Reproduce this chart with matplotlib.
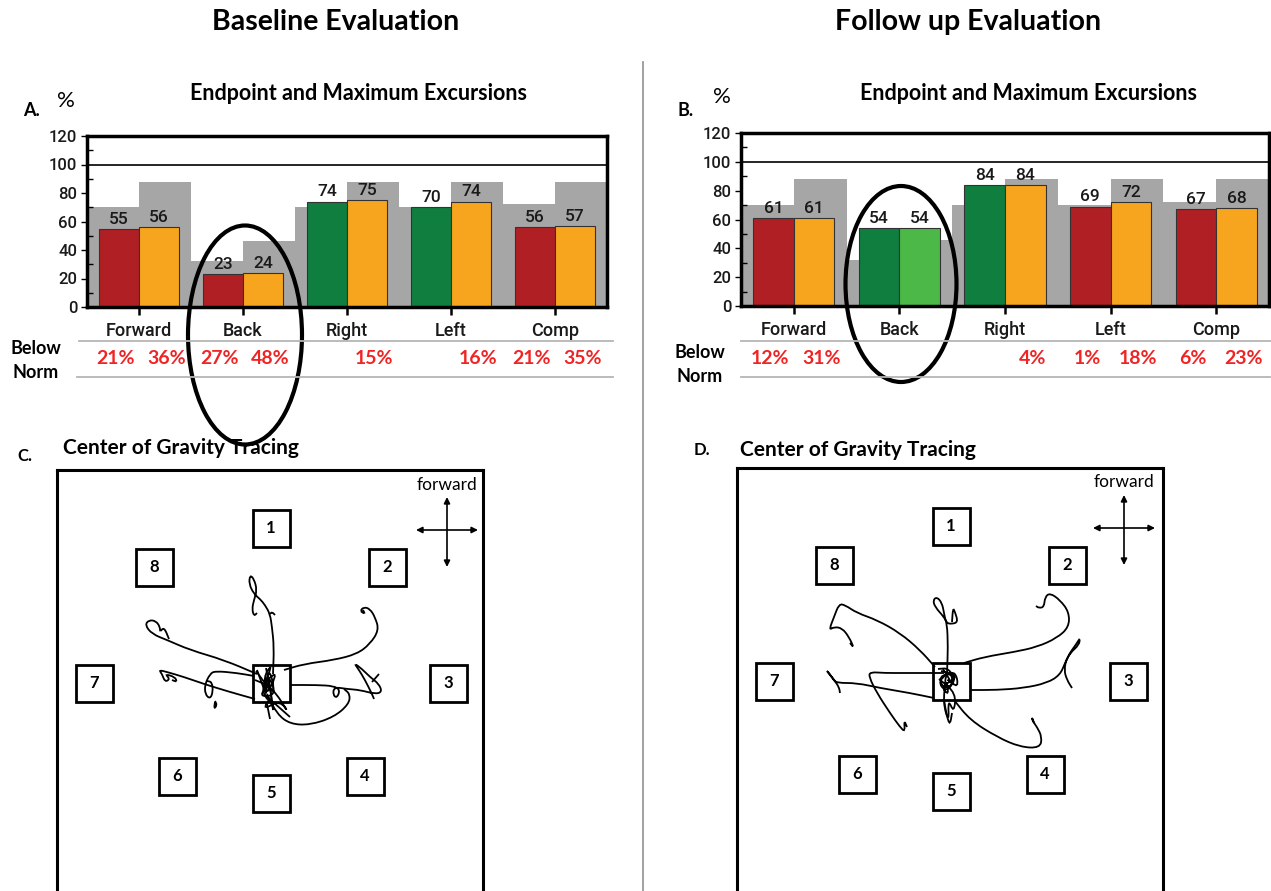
import matplotlib
matplotlib.use("Agg")
import matplotlib.pyplot as plt
import numpy as np
from matplotlib.patches import Rectangle, Ellipse, PathPatch
from matplotlib.path import Path
from matplotlib.transforms import blended_transform_factory
from matplotlib.ticker import MultipleLocator

# ---------------- data ----------------
CATEGORIES = ["Forward", "Back", "Right", "Left", "Comp"]
Y_TICKS = [0, 20, 40, 60, 80, 100, 120]

NORM_LEFT = [70, 32, 70, 70, 72]
NORM_RIGHT = [88, 46, 88, 88, 88]

A_ENDPOINT = [55, 23, 74, 70, 56]
A_MAXEXC = [56, 24, 75, 74, 57]
B_ENDPOINT = [61, 54, 84, 69, 67]
B_MAXEXC = [61, 54, 84, 72, 68]

A_BELOW_END = [21, 27, None, None, 21]
A_BELOW_MAX = [36, 48, 15, 16, 35]
B_BELOW_END = [12, None, None, 1, 6]
B_BELOW_MAX = [31, None, 4, 18, 23]

RED, ORANGE, DGREEN, LGREEN, GRAY = "#b01f24", "#f7a51e", "#0f7e3f", "#4cb848", "#a6a6a6"
A_END_COLORS = [RED, RED, DGREEN, DGREEN, RED]
A_MAX_COLORS = [ORANGE, ORANGE, ORANGE, ORANGE, ORANGE]
B_END_COLORS = [RED, DGREEN, DGREEN, RED, RED]
B_MAX_COLORS = [ORANGE, LGREEN, ORANGE, ORANGE, ORANGE]

# targets (relative to centre, pixel units, y up)
TARGET_LABELS = ["1", "2", "3", "4", "5", "6", "7", "8"]
TARGET_X = [0, 116, 177, 94, 0, -94, -177, -117]
TARGET_Y = [155, 116, 0, -93, -110, -93, 0, 116]

# centre-of-gravity traces, baseline (C)
C_UP = [(2, 9), (3, 36), (1, 56), (-1, 69), (-6, 78), (-11, 84), (-17, 89), (-22, 99), (-21, 108),
        (-17, 104), (-14, 93), (-17, 83), (-19, 74), (-17, 67), (-14, 70)]
C_UP_HOOK = [(-1, 69), (1, 71), (4, 68)]
C_UPRIGHT = [(13, 13), (33, 19), (63, 23), (86, 29), (99, 39), (108, 53), (104, 66), (99, 74),
             (93, 76), (89, 72), (94, 69), (92, 73)]
C_RIGHT = [(19, -2), (46, -2), (63, -3), (69, -7), (66, -15), (62, -12), (63, -4), (76, -6), (89, -7),
           (104, -11), (111, -9), (108, -1), (99, 6), (91, 14), (83, 20), (88, 13), (94, 3), (101, -11),
           (103, -16)]
C_RIGHT_TICK = [(108, 9), (101, 1)]
C_LOWER = [(-4, -11), (6, -31), (19, -41), (39, -42), (63, -34), (78, -21), (79, -11), (73, -6)]
C_DIAG = [(-7, -11), (19, -34)]
C_DOWN = [(-4, -21), (-1, -36)]
C_UPLEFT = [(-14, 9), (-47, 23), (-81, 33), (-104, 43), (-119, 49), (-126, 58), (-122, 63), (-115, 62),
            (-111, 56), (-111, 51), (-107, 56), (-102, 44)]
C_LEFT1 = [(-16, -16), (-41, -9), (-67, -1), (-87, 6), (-104, 11), (-112, 13), (-109, 9), (-106, 1),
           (-101, 4), (-106, 9), (-96, 6), (-94, 1), (-99, 3)]
C_LEFT2 = [(-17, 7), (-34, 10), (-56, 12), (-61, 9), (-66, -1), (-66, -11), (-61, -16), (-58, -9),
           (-59, 1), (-64, 2)]
C_LEFT_LOOP = [(-56, -18), (-54, -22), (-57, -26), (-56, -19)]
C_SCRIBBLE = [(-14, 13), (-3, -17), (-8, 6), (2, 20), (-9, -7), (1, 3), (-13, -14), (6, -12), (-4, 11),
              (4, -34), (-1, -14), (-8, -27), (9, -17), (19, -32), (1, -4), (-16, 3)]
C_SCRIBBLE2 = [(-15, 12), (5, -15), (-2, 18), (-6, -16), (8, 14), (-12, -5), (3, -25), (-5, 15)]
C_TRACES = [C_UP, C_UP_HOOK, C_UPRIGHT, C_RIGHT, C_RIGHT_TICK, C_LOWER, C_DIAG, C_DOWN,
            C_UPLEFT, C_LEFT1, C_LEFT2, C_LEFT_LOOP, C_SCRIBBLE, C_SCRIBBLE2]

# centre-of-gravity traces, follow up (D)
D_UP = [(-4, 8), (-3, 34), (-4, 58), (-7, 64), (-16, 74), (-18, 81), (-14, 84), (-9, 78), (-7, 68),
        (-5, 58), (1, 57), (7, 59), (4, 69), (2, 73), (1, 59)]
D_UPRIGHT = [(13, 18), (33, 24), (63, 29), (86, 34), (106, 43), (118, 54), (118, 69), (109, 81), (99, 88),
             (94, 84), (93, 74), (88, 73), (85, 75)]
D_RIGHT = [(19, -9), (46, -9), (73, -7), (96, -2), (109, 6), (114, 18), (119, 28), (128, 36), (129, 43),
           (126, 38), (116, 24), (113, 11), (116, 1), (121, -7)]
D_LOWRIGHT = [(3, -19), (19, -39), (46, -56), (69, -66), (89, -67), (91, -56), (86, -46), (81, -39),
              (81, -36), (83, -42)]
D_LOWLEFT = [(-7, 8), (-21, 8), (-34, 8), (-47, 8), (-67, 8), (-81, 9), (-82, 4), (-74, -12), (-61, -32),
             (-51, -46), (-46, -51), (-47, -39), (-44, -46)]
D_UPLEFT = [(-16, 14), (-31, 31), (-51, 48), (-74, 61), (-94, 68), (-106, 76), (-112, 77), (-117, 64),
            (-122, 51), (-117, 54), (-109, 53), (-102, 44), (-97, 33), (-101, 38)]
D_LEFT = [(-17, -17), (-41, -12), (-71, -7), (-94, -2), (-114, -2), (-117, 1), (-122, 8), (-125, 11),
          (-117, 1), (-112, -6), (-111, -12)]
D_DOWN = [(-7, -19), (-4, -36), (-1, -44), (1, -32)]
D_SCRIBBLE = [(-13, 12), (-2, 13), (5, -2), (-8, -8), (-12, 5), (2, 8), (0, -8), (-7, -2), (-3, 10),
              (7, 3), (-10, -5), (-2, -15), (-5, 3), (-8, -22), (-2, -42), (-3, -18), (3, -32), (5, -12),
              (-12, 2)]
D_SCRIBBLE2 = [(-10, 10), (6, 6), (-4, -12), (-14, 0), (4, 12), (8, -8), (-6, 4), (2, -4), (-8, 12)]
D_TRACES = [D_UP, D_UPRIGHT, D_RIGHT, D_LOWRIGHT, D_LOWLEFT, D_UPLEFT, D_LEFT, D_DOWN, D_SCRIBBLE,
            D_SCRIBBLE2]

# ---------------- layout ----------------
W, H = 1271, 891
DPI = 100
CAL = "Lato"
CHART = "Roboto"

fig = plt.figure(figsize=(W / DPI, H / DPI), dpi=DPI)
fig.patch.set_facecolor("white")


def px_axes(l, t, r, b, **kw):
    return fig.add_axes([l / W, 1 - b / H, (r - l) / W, (b - t) / H], **kw)


def bar_panel(l, t, r, b, end, mx, end_colors, max_colors, below_end, below_max, pct_px):
    ax = px_axes(l, t, r, b)
    x = np.arange(len(CATEGORIES))
    ax.bar(x - 0.25, NORM_LEFT, width=0.5, color=GRAY, zorder=1)
    ax.bar(x + 0.25, NORM_RIGHT, width=0.5, color=GRAY, zorder=1)
    bw = 0.385
    b1 = ax.bar(x - bw / 2, end, width=bw, color=end_colors, edgecolor="#333333", linewidth=0.8, zorder=2)
    b2 = ax.bar(x + bw / 2, mx, width=bw, color=max_colors, edgecolor="#333333", linewidth=0.8, zorder=2)
    for bars in (b1, b2):
        ax.bar_label(bars, padding=1.5, fontsize=12.5, family=CHART, fontweight="medium", color="#1a1a1a")
    ax.axhline(100, color="black", lw=1.2, zorder=3)
    ax.set_xlim(-0.5, 4.5)
    ax.set_ylim(0, 120)
    ax.set_yticks(Y_TICKS)
    ax.yaxis.set_minor_locator(MultipleLocator(10))
    ax.tick_params(axis="y", which="major", direction="out", length=4, width=1, pad=3,
                   labelsize=12, labelcolor="#1a1a1a")
    ax.tick_params(axis="y", which="minor", direction="in", length=4, width=1)
    ax.set_xticks(x, CATEGORIES)
    ax.tick_params(axis="x", direction="out", length=6, width=1.8, pad=4.5, labelsize=13, labelcolor="#1a1a1a")
    for lab in ax.get_xticklabels() + ax.get_yticklabels():
        lab.set_family(CHART)
        lab.set_fontweight("medium")
    for sp in ax.spines.values():
        sp.set_linewidth(2.5)
        sp.set_zorder(5)
    tr = blended_transform_factory(ax.transData, ax.transAxes)
    yfrac = (b - pct_px) / (b - t)
    for i in range(len(CATEGORIES)):
        if below_end[i] is not None:
            ax.text(x[i] - bw / 2 - 0.03, yfrac, f"{below_end[i]}%", transform=tr, ha="center", va="center",
                    color="#f02424", fontsize=14, fontweight="bold", family=CAL, clip_on=False)
        if below_max[i] is not None:
            ax.text(x[i] + bw / 2 + 0.07, yfrac, f"{below_max[i]}%", transform=tr, ha="center", va="center",
                    color="#f02424", fontsize=14, fontweight="bold", family=CAL, clip_on=False)
    return ax


axA = bar_panel(87, 136, 607, 307, A_ENDPOINT, A_MAXEXC, A_END_COLORS, A_MAX_COLORS,
                A_BELOW_END, A_BELOW_MAX, 358)
axB = bar_panel(741, 133, 1269, 306, B_ENDPOINT, B_MAXEXC, B_END_COLORS, B_MAX_COLORS,
                B_BELOW_END, B_BELOW_MAX, 358)


def smooth_path(pts):
    pts = [np.array(p, dtype=float) for p in pts]
    if len(pts) < 3:
        return Path(pts, [Path.MOVETO] + [Path.LINETO] * (len(pts) - 1))
    verts = [pts[0], (pts[0] + pts[1]) / 2]
    codes = [Path.MOVETO, Path.LINETO]
    for i in range(1, len(pts) - 1):
        verts += [pts[i], (pts[i] + pts[i + 1]) / 2]
        codes += [Path.CURVE3, Path.CURVE3]
    verts.append(pts[-1])
    codes.append(Path.LINETO)
    return Path(verts, codes)


def cog_panel(l, t, r, b, cx, cy, traces, arrow_c, forward_y):
    ax = px_axes(l, t, r, b)
    ax.set_xlim(l - cx, r - cx)
    ax.set_ylim(cy - b, cy - t)
    ax.set_xticks([])
    ax.set_yticks([])
    for sp in ax.spines.values():
        sp.set_linewidth(2.2)
    s = 37
    for lab, tx, ty in zip(TARGET_LABELS, TARGET_X, TARGET_Y):
        ax.add_patch(Rectangle((tx - s / 2, ty - s / 2), s, s, fill=False, lw=2.0, ec="black", zorder=3))
        ax.text(tx, ty, lab, ha="center", va="center", fontsize=12, fontweight="bold", family=CAL, zorder=4)
    ax.add_patch(Rectangle((-s / 2, -s / 2), s, s, fill=False, lw=2.0, ec="black", zorder=3))
    for tr in traces:
        ax.add_patch(PathPatch(smooth_path(tr), fill=False, lw=1.3, ec="black", zorder=2))
    axx, axy = arrow_c
    ap = dict(arrowstyle="<|-|>", lw=1.2, color="black", mutation_scale=9, shrinkA=0, shrinkB=0)
    ax.annotate("", xy=(axx + 31, axy), xytext=(axx - 31, axy), arrowprops=ap)
    ax.annotate("", xy=(axx, axy + 33), xytext=(axx, axy - 37), arrowprops=ap)
    ax.text(axx, forward_y, "forward", ha="center", va="center", fontsize=12.5, family=CAL)
    return ax


cog_panel(57, 470, 483, 900, 271, 683, C_TRACES, (176, 153), 198)
cog_panel(737, 468, 1163, 900, 951, 681, D_TRACES, (173, 153), 199)

# overlay in pixel coordinates for annotations
ov = fig.add_axes([0, 0, 1, 1], zorder=10)
ov.set_xlim(0, W)
ov.set_ylim(H, 0)
ov.axis("off")
ov.patch.set_alpha(0)

ov.text(336, 22, "Baseline Evaluation", ha="center", va="center", fontsize=20.5, fontweight="bold", family=CAL)
ov.text(968, 22, "Follow up Evaluation", ha="center", va="center", fontsize=20.5, fontweight="bold", family=CAL)
ov.plot([643, 643], [62, 891], color="#9a9a9a", lw=1.3)

ov.text(359, 94, "Endpoint and Maximum Excursions", ha="center", va="center", fontsize=15.5,
        fontweight="bold", family=CAL)
ov.text(1029, 93, "Endpoint and Maximum Excursions", ha="center", va="center", fontsize=15.5,
        fontweight="bold", family=CAL)
ov.text(31, 111, "A.", ha="center", va="center", fontsize=13, fontweight="bold", family=CAL)
ov.text(66, 101, "%", ha="center", va="center", fontsize=16, family=CAL)
ov.text(686, 110, "B.", ha="center", va="center", fontsize=13, fontweight="bold", family=CAL)
ov.text(722, 97, "%", ha="center", va="center", fontsize=16, family=CAL)

for (x0, x1, y) in [(79, 613, 341), (77, 613, 377), (741, 1271, 341), (741, 1270, 377)]:
    ov.plot([x0, x1], [y, y], color="#b5b5b5", lw=1.3)
for (x, y1, y2) in [(36, 349, 373), (700, 352, 376)]:
    ov.text(x, y1, "Below", ha="center", va="center", fontsize=13, fontweight="bold", family=CAL)
    ov.text(x, y2, "Norm", ha="center", va="center", fontsize=13, fontweight="bold", family=CAL)

ov.add_patch(Ellipse((245, 335), 114, 219, fill=False, lw=3, ec="black"))
ov.add_patch(Ellipse((901, 284), 111, 196, fill=False, lw=3, ec="black"))

ov.text(25, 456, "C.", ha="center", va="center", fontsize=12, fontweight="bold", family=CAL)
ov.text(63, 448, "Center of Gravity Tracing", ha="left", va="center", fontsize=15, fontweight="bold", family=CAL)
ov.text(702, 450, "D.", ha="center", va="center", fontsize=12, fontweight="bold", family=CAL)
ov.text(740, 450, "Center of Gravity Tracing", ha="left", va="center", fontsize=15, fontweight="bold", family=CAL)

fig.savefig("out.png", dpi=DPI)
